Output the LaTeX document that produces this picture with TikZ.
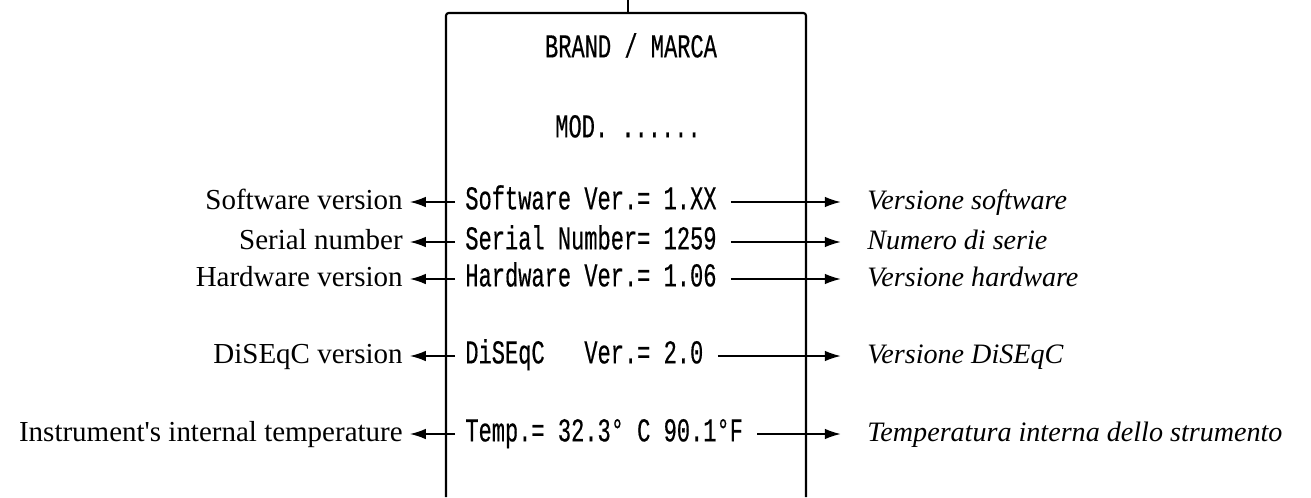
\documentclass[tikz,border=0pt]{standalone}
\usepackage{fontspec}
\setmainfont{Liberation Serif}[Ligatures=TeXOff]
\newfontfamily\lcdfont[FakeStretch=0.66,FakeBold=0.4]{Liberation Mono}
\usetikzlibrary{arrows.meta}
\begin{document}
\begin{tikzpicture}[x=0.02cm,y=-0.02cm,
  boxline/.style={line width=1.2pt,rounded corners=1.5pt},
  arr/.style={line width=0.75pt,-{Latex[length=9pt,width=6pt]}},
  mono/.style={font=\lcdfont\fontsize{19}{22}\selectfont,inner sep=0pt,text height=0.7em,text depth=0.2em},
  leftlab/.style={font=\fontsize{16.5}{19}\selectfont,inner sep=0pt,anchor=east,text height=0.72em,text depth=0.1em},
  rightlab/.style={font=\itshape\fontsize{16}{19}\selectfont,inner sep=0pt,anchor=west,text height=0.72em,text depth=0.1em}]
\useasboundingbox (0,0) rectangle (1311,497);
\fill[white] (0,0) rectangle (1311,497);
% box
\draw[boxline] (446,497) -- (446,13) -- (806,13) -- (806,497);
\draw[line width=1.2pt] (628,0) -- (628,13);
% header texts
\node[mono] (brand) at (631,53) {BRAND / MARCA};
\node[mono] (mod) at (628,133) {MOD. ......};
% inner texts
\node[mono,anchor=west] (t1) at (465,205) {Software Ver.= 1.XX};
\node[mono,anchor=west] (t2) at (465,245) {Serial Number= 1259};
\node[mono,anchor=west] (t3) at (465,282) {Hardware Ver.= 1.06};
\node[mono,anchor=west] (t4) at (465,359) {DiSEqC\ \ \ Ver.= 2.0};
\node[mono,anchor=west] (t5) at (465,437) {Temp.= 32.3° C 90.1°F};
% left labels
\node[leftlab] (l1) at (403,204) {Software version};
\node[leftlab] (l2) at (403,244) {Serial number};
\node[leftlab] (l3) at (403,281) {Hardware version};
\node[leftlab] (l4) at (403,358) {DiSEqC version};
\node[leftlab] (l5) at (403,436) {Instrument's internal temperature};
% right labels
\node[rightlab] (r1) at (867,204) {Versione software};
\node[rightlab] (r2) at (867,244) {Numero di serie};
\node[rightlab] (r3) at (867,281) {Versione hardware};
\node[rightlab] (r4) at (867,358) {Versione DiSEqC};
\node[rightlab] (r5) at (867,436) {Temperatura interna dello strumento};
% left arrows
\foreach \i/\y in {1/202,2/242,3/279,4/356,5/434}{
  \coordinate (s\i) at (455,\y);
  \draw[arr] (s\i) -- ([xshift=4]s\i -| l\i.east);
}
% right arrows
\foreach \i/\y in {1/202,2/242,3/279,4/356,5/434}{
  \coordinate (e\i) at ([xshift=8]t\i.east |- 0,\y);
  \draw[arr] (e\i) -- ([xshift=-15]e\i -| r\i.west);
}
\end{tikzpicture}
\end{document}
